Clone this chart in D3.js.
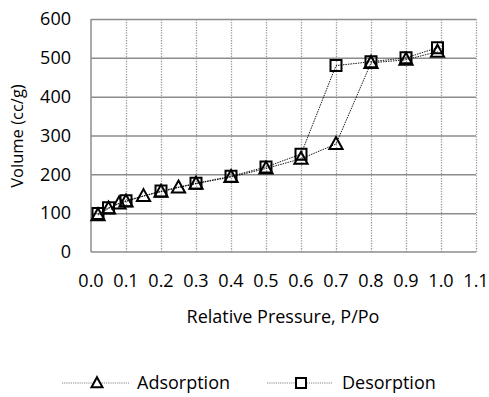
<!DOCTYPE html>
<html>
<head>
<meta charset="utf-8">
<script src="https://cdn.jsdelivr.net/npm/d3@7"></script>
<style>
  html, body { margin: 0; padding: 0; background: #fff; }
  svg { display: block; }
  text { font-family: "Open Sans", sans-serif; fill: #000; }
</style>
</head>
<body>
<script>
// Nitrogen isotherm: adsorption and desorption branches
const adsP = [0.02, 0.05, 0.08, 0.10, 0.15, 0.20, 0.25, 0.30, 0.40, 0.50, 0.60, 0.70, 0.80, 0.90, 0.99];
const adsV = [95, 112, 125, 130, 144, 155, 166, 176, 193, 215, 240, 278, 487, 495, 516];
const desP = [0.99, 0.90, 0.80, 0.70, 0.60, 0.50, 0.40, 0.30, 0.20, 0.10, 0.05, 0.02];
const desV = [526, 500, 490, 480, 252, 219, 195, 177, 157, 132, 114, 99];
const xTicks = [0, 0.1, 0.2, 0.3, 0.4, 0.5, 0.6, 0.7, 0.8, 0.9, 1.0, 1.1];
const yTicks = [0, 100, 200, 300, 400, 500, 600];
const seriesNames = ["Adsorption", "Desorption"];

const W = 489, H = 397;
const m = { left: 91, top: 19, right: 476, bottom: 252 };
const FS = 18;

const svg = d3.select("body").append("svg").attr("width", W).attr("height", H);

const x = d3.scaleLinear().domain([0, 1.1]).range([m.left, m.right]);
const y = d3.scaleLinear().domain([0, 600]).range([m.bottom, m.top]);

// vertical dotted gridlines
svg.append("g")
  .attr("transform", `translate(0,${m.bottom})`)
  .call(d3.axisBottom(x).tickValues(xTicks.slice(1)).tickSize(-(m.bottom - m.top)).tickFormat(""))
  .call(g => g.select(".domain").remove())
  .call(g => g.selectAll("line").attr("stroke", "#9a9a9a").attr("stroke-width", 1.3).attr("stroke-dasharray", "1.3,1.3"));

// horizontal solid gridlines
svg.append("g")
  .attr("transform", `translate(${m.left},0)`)
  .call(d3.axisLeft(y).tickValues(yTicks.slice(1)).tickSize(-(m.right - m.left)).tickFormat(""))
  .call(g => g.select(".domain").remove())
  .call(g => g.selectAll("line").attr("stroke", "#8c8c8c").attr("stroke-width", 1.5));

// axis lines
svg.append("line").attr("x1", m.left).attr("x2", m.left).attr("y1", m.top).attr("y2", m.bottom)
  .attr("stroke", "#8c8c8c").attr("stroke-width", 1.5);
svg.append("line").attr("x1", m.left).attr("x2", m.right).attr("y1", m.bottom).attr("y2", m.bottom)
  .attr("stroke", "#8c8c8c").attr("stroke-width", 1.5);

// tick labels
const fmt = d3.format(".1f");
svg.append("g").selectAll("text").data(xTicks).join("text")
  .attr("x", d => x(d)).attr("y", 287)
  .attr("text-anchor", "middle").attr("font-size", FS)
  .text(d => fmt(d));
svg.append("g").selectAll("text").data(yTicks).join("text")
  .attr("x", 71).attr("y", d => y(d)).attr("dy", "0.35em")
  .attr("text-anchor", "end").attr("font-size", FS)
  .text(d => d);

// axis titles
svg.append("text").attr("x", 283).attr("y", 323)
  .attr("text-anchor", "middle").attr("font-size", FS).text("Relative Pressure, P/Po");
svg.append("text").attr("transform", `translate(23,136) rotate(-90)`)
  .attr("text-anchor", "middle").attr("font-size", 16.5).text("Volume (cc/g)");

// series
const ads = adsP.map((p, i) => [p, adsV[i]]);
const des = desP.map((p, i) => [p, desV[i]]);
const line = d3.line().x(d => x(d[0])).y(d => y(d[1]));

const triPath = s => `M0,${-s * 0.58}L${s * 0.55},${s * 0.42}L${-s * 0.55},${s * 0.42}Z`;
const sqPath = s => `M${-s / 2},${-s / 2}h${s}v${s}h${-s}Z`;

function drawSeries(data, shape) {
  const g = svg.append("g");
  g.append("path").datum(data).attr("d", line)
    .attr("fill", "none").attr("stroke", "#000").attr("stroke-width", 0.9).attr("stroke-dasharray", "1.5,1");
  g.selectAll("path.mk").data(data).join("path").attr("class", "mk")
    .attr("transform", d => `translate(${x(d[0])},${y(d[1])})`)
    .attr("d", shape)
    .attr("fill", "none").attr("stroke", "#000").attr("stroke-width", 2);
}
drawSeries(des, sqPath(11));
drawSeries(ads, triPath(12));

// legend
const legY = 383;
const legend = [
  { name: seriesNames[0], x0: 62, x1: 129, mx: 97, shape: triPath(10), tx: 137 },
  { name: seriesNames[1], x0: 267, x1: 333, mx: 301, shape: sqPath(10), tx: 342 }
];
legend.forEach(l => {
  svg.append("line").attr("x1", l.x0).attr("x2", l.x1).attr("y1", legY).attr("y2", legY)
    .attr("stroke", "#666").attr("stroke-width", 0.8).attr("stroke-dasharray", "1.2,1");
  svg.append("path").attr("transform", `translate(${l.mx},${legY})`).attr("d", l.shape)
    .attr("fill", "#fff").attr("stroke", "#000").attr("stroke-width", 2);
  svg.append("text").attr("x", l.tx).attr("y", legY).attr("dy", "0.35em")
    .attr("font-size", FS).text(l.name);
});
</script>
</body>
</html>
